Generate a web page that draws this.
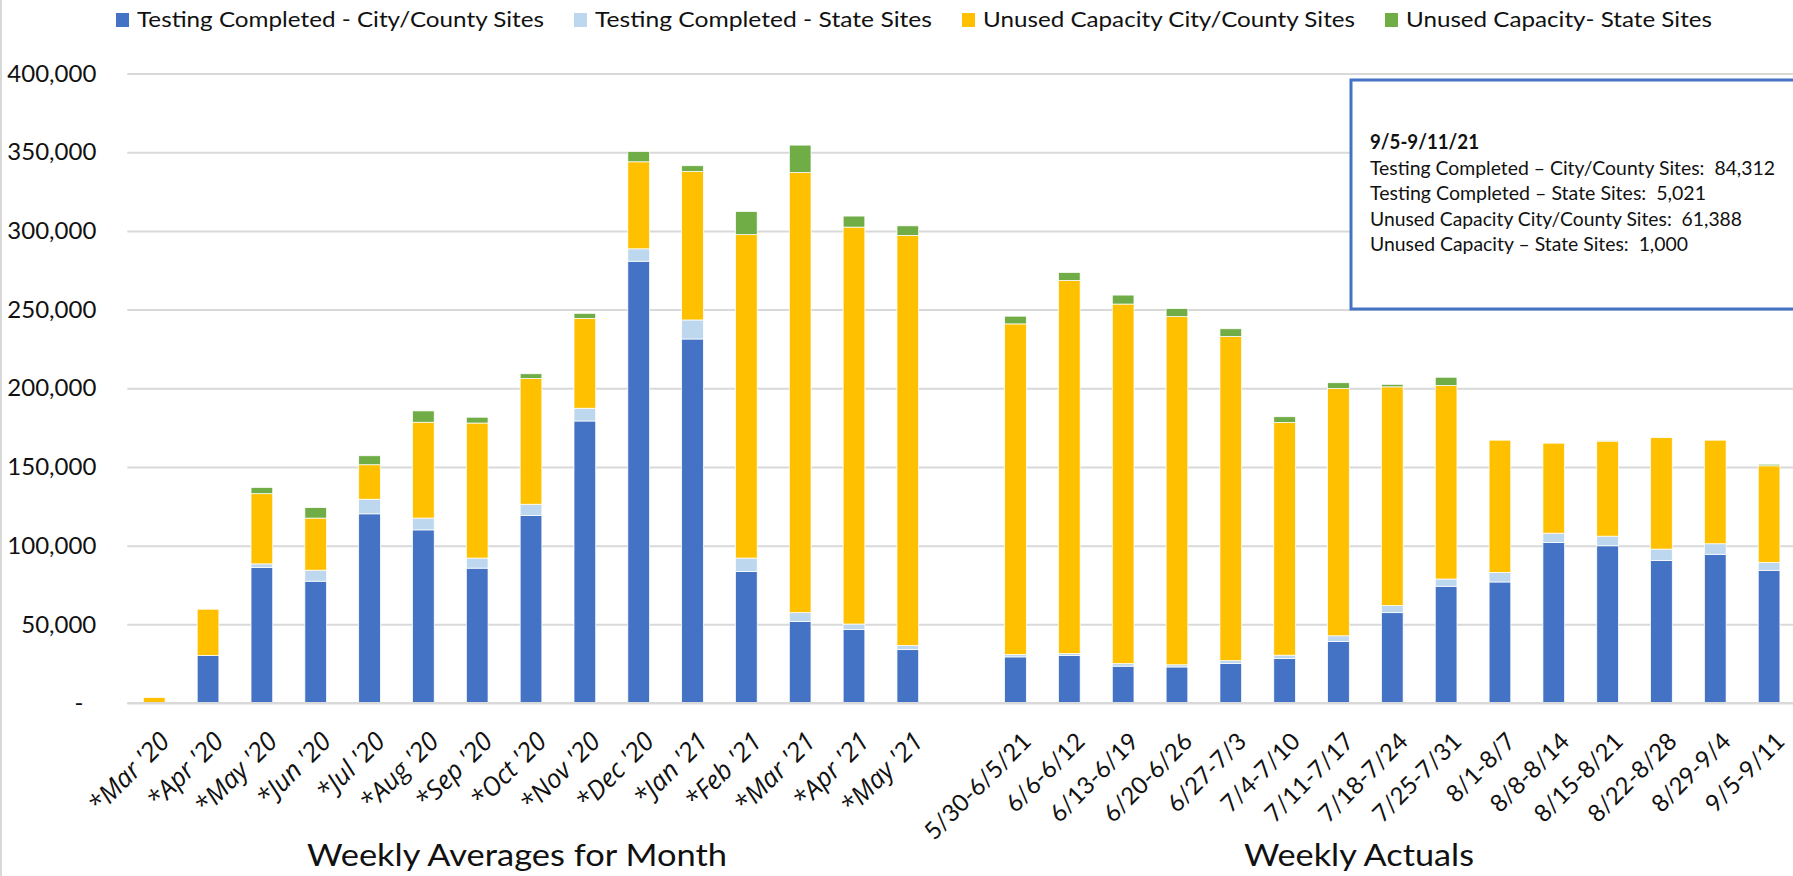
<!DOCTYPE html>
<html>
<head>
<meta charset="utf-8">
<script src="https://cdn.jsdelivr.net/npm/d3@7"></script>
<style>
  body { margin: 0; background: #fff; }
  svg { display: block; font-family: Lato, "Open Sans", sans-serif; }
  text { fill: #111; white-space: pre; }
</style>
</head>
<body>
<div id="chart"></div>
<script>
// Categories: monthly weekly-averages, one empty slot, then weekly actuals
const categories = [
  "*Mar '20", "*Apr '20", "*May '20", "*Jun '20", "*Jul '20", "*Aug '20", "*Sep '20",
  "*Oct '20", "*Nov '20", "*Dec '20", "*Jan '21", "*Feb '21", "*Mar '21", "*Apr '21", "*May '21",
  " ",
  "5/30-6/5/21", "6/6-6/12", "6/13-6/19", "6/20-6/26", "6/27-7/3", "7/4-7/10", "7/11-7/17",
  "7/18-7/24", "7/25-7/31", "8/1-8/7", "8/8-8/14", "8/15-8/21", "8/22-8/28", "8/29-9/4", "9/5-9/11",
];

const testingCity = [
  0, 30200, 86200, 77400, 120200, 110000, 85700,
  119100, 179200, 280700, 231300, 83500, 51800, 46700, 33900,
  0,
  29300, 30200, 23400, 22900, 25100, 28300, 39000,
  57400, 74200, 76900, 102000, 99900, 90500, 94500, 84312,
];
const testingState = [
  0, 0, 2200, 7000, 9300, 7500, 6400,
  7200, 8100, 7900, 12100, 8600, 5600, 3500, 2700,
  0,
  1600, 1300, 1700, 1400, 1800, 2100, 3700,
  4500, 4600, 6100, 5900, 6100, 7300, 6700, 5021,
];
const unusedCity = [
  3500, 29400, 44600, 33100, 21900, 60900, 85800,
  79900, 57100, 55300, 94300, 205500, 279700, 252200, 260500,
  0,
  210000, 237000, 228400, 221200, 206000, 147800, 157100,
  139000, 122900, 84000, 57200, 60400, 70800, 65800, 61388,
];
const unusedState = [
  0, 0, 4000, 6700, 5700, 7200, 3700,
  3000, 3200, 6600, 3700, 14700, 17400, 7000, 6100,
  0,
  4900, 5100, 5700, 5100, 4900, 3700, 3700,
  1600, 5300, 0, 0, 300, 0, 0, 1000,
];

const seriesKeys = ["testingCity", "testingState", "unusedCity", "unusedState"];
const seriesNames = [
  "Testing Completed - City/County Sites",
  "Testing Completed - State Sites",
  "Unused Capacity City/County Sites",
  "Unused Capacity- State Sites",
];
const seriesColors = ["#4472C4", "#BDD7EE", "#FFC000", "#70AD47"];

const yTicks = [0, 50000, 100000, 150000, 200000, 250000, 300000, 350000, 400000];
const groupTitles = ["Weekly Averages for Month", "Weekly Actuals"];
const calloutTitle = "9/5-9/11/21";

const config = {
  width: 1793,
  height: 876,
  margin: { left: 127.3, top: 73.5, bottom: 703 },
  plotRight: 1796,
  legendWidths: [407, 337, 372, 306],
  titleX: [517, 1359],
  calloutWidths: [109, 405, 336, 372, 318],
};

const svg = d3
  .select("#chart")
  .append("svg")
  .attr("width", config.width)
  .attr("height", config.height);

// chart area border (left side only visible)
svg
  .append("line")
  .attr("x1", 1)
  .attr("x2", 1)
  .attr("y1", 0)
  .attr("y2", config.height)
  .attr("stroke", "#d9d9d9")
  .attr("stroke-width", 2);

const x = d3
  .scaleBand()
  .domain(categories)
  .range([config.margin.left, config.plotRight])
  .paddingInner(0.597)
  .paddingOuter(0.2985);

const y = d3
  .scaleLinear()
  .domain([0, 400000])
  .range([config.margin.bottom, config.margin.top]);

// Gridlines
svg
  .append("g")
  .attr("transform", `translate(${config.margin.left},0)`)
  .call(
    d3
      .axisLeft(y)
      .tickValues(yTicks)
      .tickSize(-(config.width - config.margin.left))
      .tickFormat("")
  )
  .call((g) => g.select(".domain").remove())
  .call((g) =>
    g.selectAll("line").attr("stroke", "#d9d9d9").attr("stroke-width", 2)
  );

// Y axis labels
svg
  .append("g")
  .attr("transform", `translate(${config.margin.left},0)`)
  .call(
    d3
      .axisLeft(y)
      .tickValues(yTicks)
      .tickSize(0)
      .tickPadding(31)
      .tickFormat((d) => (d === 0 ? "-" : d3.format(",")(d)))
  )
  .call((g) => g.select(".domain").remove())
  .call((g) =>
    g
      .selectAll("text")
      .attr("font-size", 24)
      .attr("font-family", "Lato, sans-serif")
      .attr("fill", "#111")
  )
  .call((g) =>
    g
      .selectAll(".tick")
      .filter((d) => d === 0)
      .select("text")
      .attr("x", -44)
  );

// Stacked bars
const table = categories.map((c, i) => ({
  category: c,
  testingCity: testingCity[i],
  testingState: testingState[i],
  unusedCity: unusedCity[i],
  unusedState: unusedState[i],
}));
const stacked = d3.stack().keys(seriesKeys)(table);

svg
  .append("g")
  .selectAll("g")
  .data(stacked)
  .join("g")
  .attr("fill", (d, i) => seriesColors[i])
  .selectAll("rect")
  .data((d) => d.filter((s) => s[1] > s[0]))
  .join("rect")
  .attr("x", (d) => x(d.data.category))
  .attr("width", x.bandwidth())
  .attr("y", (d) => y(d[1]))
  .attr("height", (d) => y(d[0]) - y(d[1]))
  .attr("stroke", "#fff")
  .attr("stroke-width", 0.75);

// baseline
svg
  .append("line")
  .attr("x1", config.margin.left)
  .attr("x2", config.width)
  .attr("y1", y(0))
  .attr("y2", y(0))
  .attr("stroke", "#d9d9d9")
  .attr("stroke-width", 2);

// Category labels (rotated); monthly ones are italic
svg
  .append("g")
  .selectAll("text")
  .data(categories.filter((c) => c.trim() !== ""))
  .join("text")
  .attr(
    "transform",
    (d) =>
      `translate(${x(d) + x.bandwidth() / 2 + 17},${y(0) + 40}) rotate(-45)`
  )
  .attr("text-anchor", "end")
  .attr("font-size", (d) => (d.startsWith("*") ? 26 : 24))
  .attr("font-family", (d) =>
    d.startsWith("*") ? "'Open Sans', sans-serif" : "Lato, sans-serif"
  )
  .attr("font-style", (d) => (d.startsWith("*") ? "italic" : "normal"))
  .text((d) => d);

// Group titles
svg
  .append("g")
  .selectAll("text")
  .data(groupTitles)
  .join("text")
  .attr("x", (d, i) => config.titleX[i])
  .attr("y", 866)
  .attr("text-anchor", "middle")
  .attr("font-size", 30)
  .attr("textLength", (d, i) => (i === 0 ? 420 : 230))
  .attr("lengthAdjust", "spacingAndGlyphs")
  .text((d) => d);

// Legend
const legend = svg.append("g").attr("transform", "translate(116,0)");
let lx = 0;
seriesNames.forEach((name, i) => {
  legend
    .append("rect")
    .attr("x", lx)
    .attr("y", 13)
    .attr("width", 13)
    .attr("height", 14)
    .attr("fill", seriesColors[i]);
  legend
    .append("text")
    .attr("x", lx + 21)
    .attr("y", 27)
    .attr("font-size", 22)
    .attr("textLength", config.legendWidths[i])
    .attr("lengthAdjust", "spacingAndGlyphs")
    .text(name);
  lx += 21 + config.legendWidths[i] + 30;
});

// Callout box for the latest week
const last = categories.length - 1;
const fmt = d3.format(",");
const calloutLines = [
  calloutTitle,
  `Testing Completed \u2013 City/County Sites:  ${fmt(testingCity[last])}`,
  `Testing Completed \u2013 State Sites:  ${fmt(testingState[last])}`,
  `Unused Capacity City/County Sites:  ${fmt(unusedCity[last])}`,
  `Unused Capacity \u2013 State Sites:  ${fmt(unusedState[last])}`,
];

const callout = svg.append("g");
callout
  .append("rect")
  .attr("x", 1351)
  .attr("y", 80)
  .attr("width", 470)
  .attr("height", 229)
  .attr("fill", "#fff")
  .attr("stroke", "#4472C4")
  .attr("stroke-width", 3);

callout
  .selectAll("text")
  .data(calloutLines)
  .join("text")
  .attr("x", 1370)
  .attr("y", (d, i) => (i === 0 ? 149 : 174.5 + (i - 1) * 25.6))
  .attr("font-size", 20)
  .attr("font-weight", (d, i) => (i === 0 ? "bold" : "normal"))
  .attr("textLength", (d, i) => config.calloutWidths[i])
  .attr("lengthAdjust", "spacingAndGlyphs")
  .text((d) => d);
</script>
</body>
</html>
